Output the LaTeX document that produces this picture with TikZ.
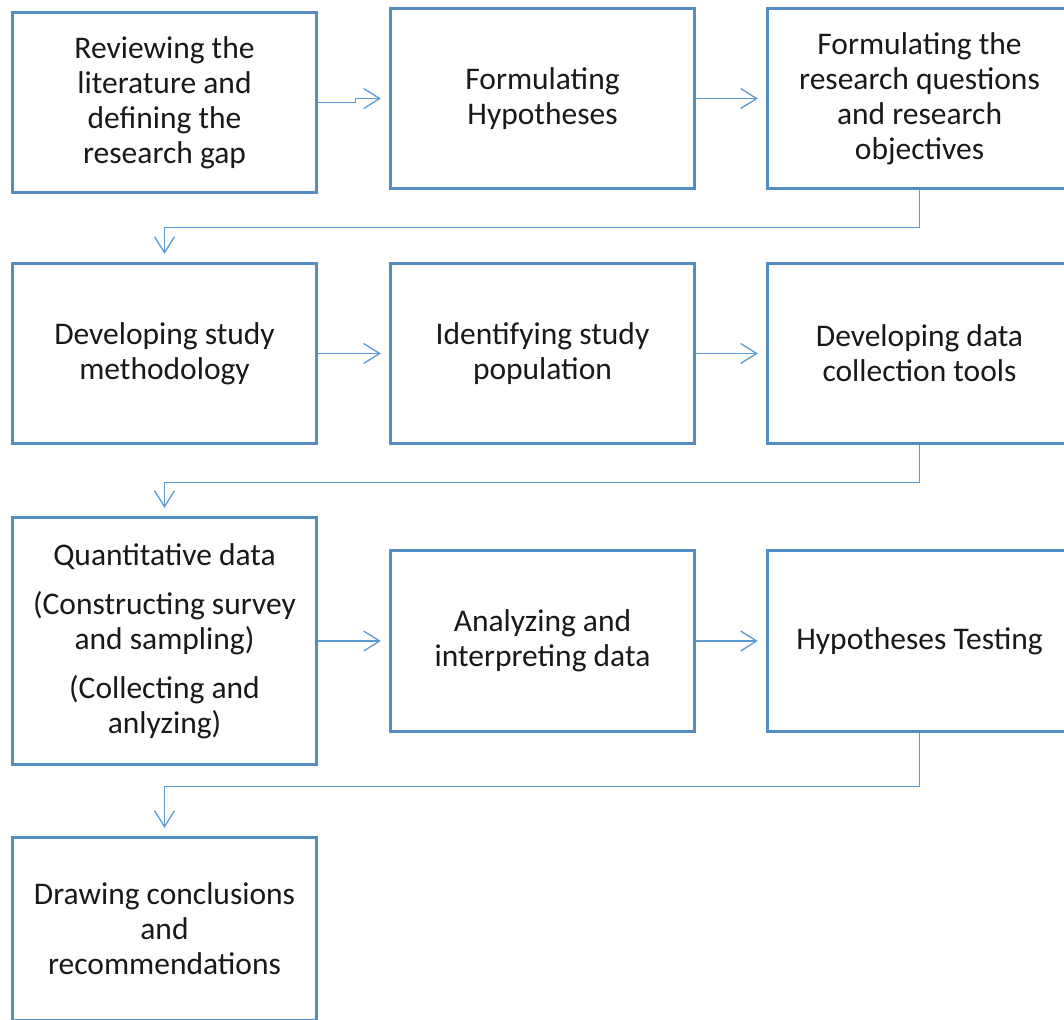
\documentclass[tikz,border=0pt]{standalone}
\usepackage{fontspec}
\setmainfont{Carlito}
\usetikzlibrary{arrows.meta,calc}
\definecolor{boxblue}{RGB}{84,140,196}
\definecolor{linkblue}{RGB}{91,155,213}
\tikzset{
  stepbox/.style={draw=boxblue, line width=3.3pt, fill=white, minimum width=304pt, minimum height=180pt,
    align=center, font=\fontsize{31.5pt}{35pt}\selectfont, text=black!90, inner sep=0pt},
  conn/.style={draw=linkblue, line width=1.3pt, shorten >=8pt,
    -{Straight Barb[length=16pt,width=20pt,line width=1.3pt]}}
}
\begin{document}
\begin{tikzpicture}[x=1pt,y=-1pt]
\useasboundingbox (0,0) rectangle (1064,1019);
\clip (0,0) rectangle (1064,1019);
% row 1
\node[stepbox] (A) at (164.5,102.5) {Reviewing the\\literature and\\defining the\\research gap};
\node[stepbox] (B) at (542.5,98.5) {Formulating\\Hypotheses};
\node[stepbox] (C) at (919.5,98.5) {Formulating the\\research questions\\and research\\objectives};
% row 2
\node[stepbox] (D) at (164.5,353.5) {Developing study\\methodology};
\node[stepbox] (E) at (542.5,353.5) {Identifying study\\population};
\node[stepbox] (F) at (919.5,353.5) {Developing data\\collection tools};
% row 3
\node[stepbox, minimum height=247pt] (G) at (164.5,641) {Quantitative data\\[14pt](Constructing survey\\and sampling)\\[14pt](Collecting and\\anlyzing)};
\node[stepbox, minimum height=181pt] (H) at (542.5,641) {Analyzing and\\interpreting data};
\node[stepbox, minimum height=181pt] (I) at (919.5,641) {Hypotheses Testing};
% row 4
\node[stepbox, minimum height=183pt] (J) at (164.5,929) {Drawing conclusions\\and\\recommendations};
% connectors
\draw[conn] (A.east) -- ++(37,0) |- (B.west);
\draw[conn] (B.east) -- (C.west);
\draw[conn] (C.south) -- ++(0,37) -| (D.north);
\draw[conn] (D.east) -- (E.west);
\draw[conn] (E.east) -- (F.west);
\draw[conn] (F.south) -- ++(0,37.5) -| (G.north);
\draw[conn] (G.east) -- (H.west);
\draw[conn] (H.east) -- (I.west);
\draw[conn] (I.south) -- ++(0,53.5) -| (J.north);
\end{tikzpicture}
\end{document}
